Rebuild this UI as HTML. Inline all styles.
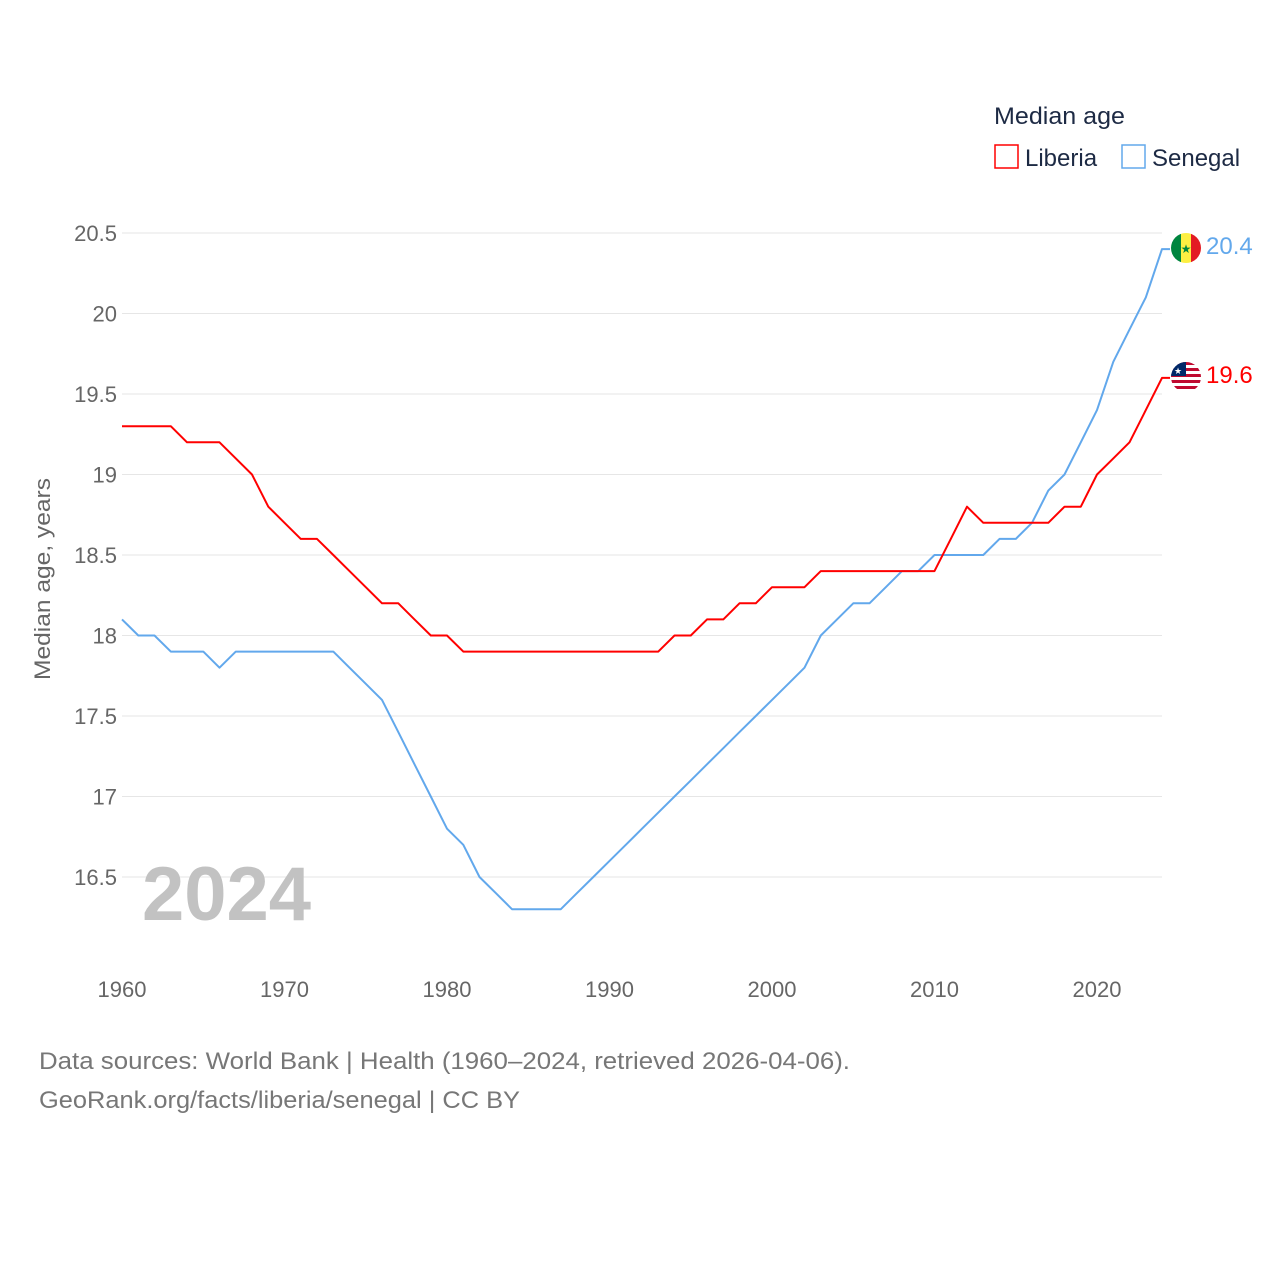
<!DOCTYPE html>
<html><head><meta charset="utf-8">
<style>
body{margin:0;background:#fff;font-family:"Liberation Sans",sans-serif;}
svg text{font-family:"Liberation Sans",sans-serif;}
</style></head>
<body>
<svg width="1280" height="1280" viewBox="0 0 1280 1280">
<g id="grid"></g>
<g id="yticks"></g>
<g id="xticks"></g>
<text transform="translate(50,579) rotate(-90)" text-anchor="middle" font-size="22" fill="#666" textLength="202" lengthAdjust="spacingAndGlyphs">Median age, years</text>
<text x="142" y="920" font-size="76" font-weight="bold" fill="#c2c2c2">2024</text>
<g id="series"></g>
<text x="994" y="124" font-size="24" fill="#1d2a44" textLength="131" lengthAdjust="spacingAndGlyphs">Median age</text>
<g>
<rect x="995" y="145" width="23" height="23" fill="none" stroke="#ff0000" stroke-width="1.5"/>
<text x="1025" y="166" font-size="24" fill="#1d2a44">Liberia</text></g>
<g>
<rect x="1122" y="145" width="23" height="23" fill="none" stroke="#62a8ec" stroke-width="1.5"/>
<text x="1152" y="166" font-size="24" fill="#1d2a44">Senegal</text></g>
<g>
<clipPath id="c1"><circle cx="1186" cy="248" r="15"/></clipPath>
<g clip-path="url(#c1)"><rect x="1171" y="233" width="10" height="30" fill="#00853f"/><rect x="1181" y="233" width="10" height="30" fill="#fdef42"/><rect x="1191" y="233" width="10" height="30" fill="#e31b23"/></g>
<text x="1186" y="253" font-size="12" text-anchor="middle" fill="#00853f">★</text></g>
<g>
<clipPath id="c2"><circle cx="1186" cy="377" r="15"/></clipPath>
<g clip-path="url(#c2)"><rect x="1171" y="362" width="30" height="30" fill="#fff"/>
<rect x="1171" y="362" width="30" height="3" fill="#bf0a30"/><rect x="1171" y="368" width="30" height="3" fill="#bf0a30"/><rect x="1171" y="374" width="30" height="3" fill="#bf0a30"/><rect x="1171" y="380" width="30" height="3" fill="#bf0a30"/><rect x="1171" y="386" width="30" height="3" fill="#bf0a30"/>
<rect x="1171" y="362" width="15" height="14" fill="#002868"/></g>
<text x="1178" y="374" font-size="9" text-anchor="middle" fill="#fff">★</text></g>
<text id="lbl-sen" x="1206" y="254" font-size="24" fill="#62a8ec">20.4</text>
<text id="lbl-lib" x="1206" y="383" font-size="24" fill="#ff0000">19.6</text>
<text x="39" y="1069" font-size="24" fill="#777" textLength="811" lengthAdjust="spacingAndGlyphs">Data sources: World Bank | Health (1960–2024, retrieved 2026-04-06).</text>
<text x="39" y="1108" font-size="24" fill="#777" textLength="481" lengthAdjust="spacingAndGlyphs">GeoRank.org/facts/liberia/senegal | CC BY</text>
</svg>
<script>
const years=[];for(let y=1960;y<=2024;y++)years.push(y);
const liberia=[19.3,19.3,19.3,19.3,19.2,19.2,19.2,19.1,19.0,18.8,18.7,18.6,18.6,18.5,18.4,18.3,18.2,18.2,18.1,18.0,18.0,17.9,17.9,17.9,17.9,17.9,17.9,17.9,17.9,17.9,17.9,17.9,17.9,17.9,18.0,18.0,18.1,18.1,18.2,18.2,18.3,18.3,18.3,18.4,18.4,18.4,18.4,18.4,18.4,18.4,18.4,18.6,18.8,18.7,18.7,18.7,18.7,18.7,18.8,18.8,19.0,19.1,19.2,19.4,19.6];
const senegal=[18.1,18.0,18.0,17.9,17.9,17.9,17.8,17.9,17.9,17.9,17.9,17.9,17.9,17.9,17.8,17.7,17.6,17.4,17.2,17.0,16.8,16.7,16.5,16.4,16.3,16.3,16.3,16.3,16.4,16.5,16.6,16.7,16.8,16.9,17.0,17.1,17.2,17.3,17.4,17.5,17.6,17.7,17.8,18.0,18.1,18.2,18.2,18.3,18.4,18.4,18.5,18.5,18.5,18.5,18.6,18.6,18.7,18.9,19.0,19.2,19.4,19.7,19.9,20.1,20.4];
const yTicks=[16.5,17,17.5,18,18.5,19,19.5,20,20.5];
const xTicks=[1960,1970,1980,1990,2000,2010,2020];
const X=y=>122+(y-1960)*16.25;
const Y=v=>233+(20.5-v)*161;
const NS="http://www.w3.org/2000/svg";
function mk(tag,attrs,parent,txt){const e=document.createElementNS(NS,tag);for(const k in attrs)e.setAttribute(k,attrs[k]);if(txt!=null)e.textContent=txt;parent.appendChild(e);return e;}
const grid=document.getElementById('grid'),yt=document.getElementById('yticks'),xt=document.getElementById('xticks'),ser=document.getElementById('series');
yTicks.forEach(v=>{
 const l=mk('line',{x1:122,x2:1162,y1:Y(v),y2:Y(v),stroke:'#e6e6e6','stroke-width':1},grid);
 
 
 const t=mk('text',{x:117,y:Y(v)+8,'text-anchor':'end','font-size':22,fill:'#666'},yt,String(v));
 
 
});
xTicks.forEach(v=>{
 const t=mk('text',{x:X(v),y:997,'text-anchor':'middle','font-size':22,fill:'#666'},xt,String(v));
 
 
});
function line(data,color,name){
 let d=data.map((v,i)=>(i?'L':'M')+X(years[i]).toFixed(1)+','+Y(v).toFixed(1)).join('');
 d+='L1170,'+Y(data[data.length-1]).toFixed(1);
 const p=mk('path',{d:d,fill:'none',stroke:color,'stroke-width':2,'stroke-linejoin':'round'},ser);
 
 
}
line(senegal,'#62a8ec','senegal-line');
line(liberia,'#ff0000','liberia-line');
document.getElementById('lbl-sen').textContent=senegal[senegal.length-1].toFixed(1);
document.getElementById('lbl-lib').textContent=liberia[liberia.length-1].toFixed(1);
</script>
</body></html>
